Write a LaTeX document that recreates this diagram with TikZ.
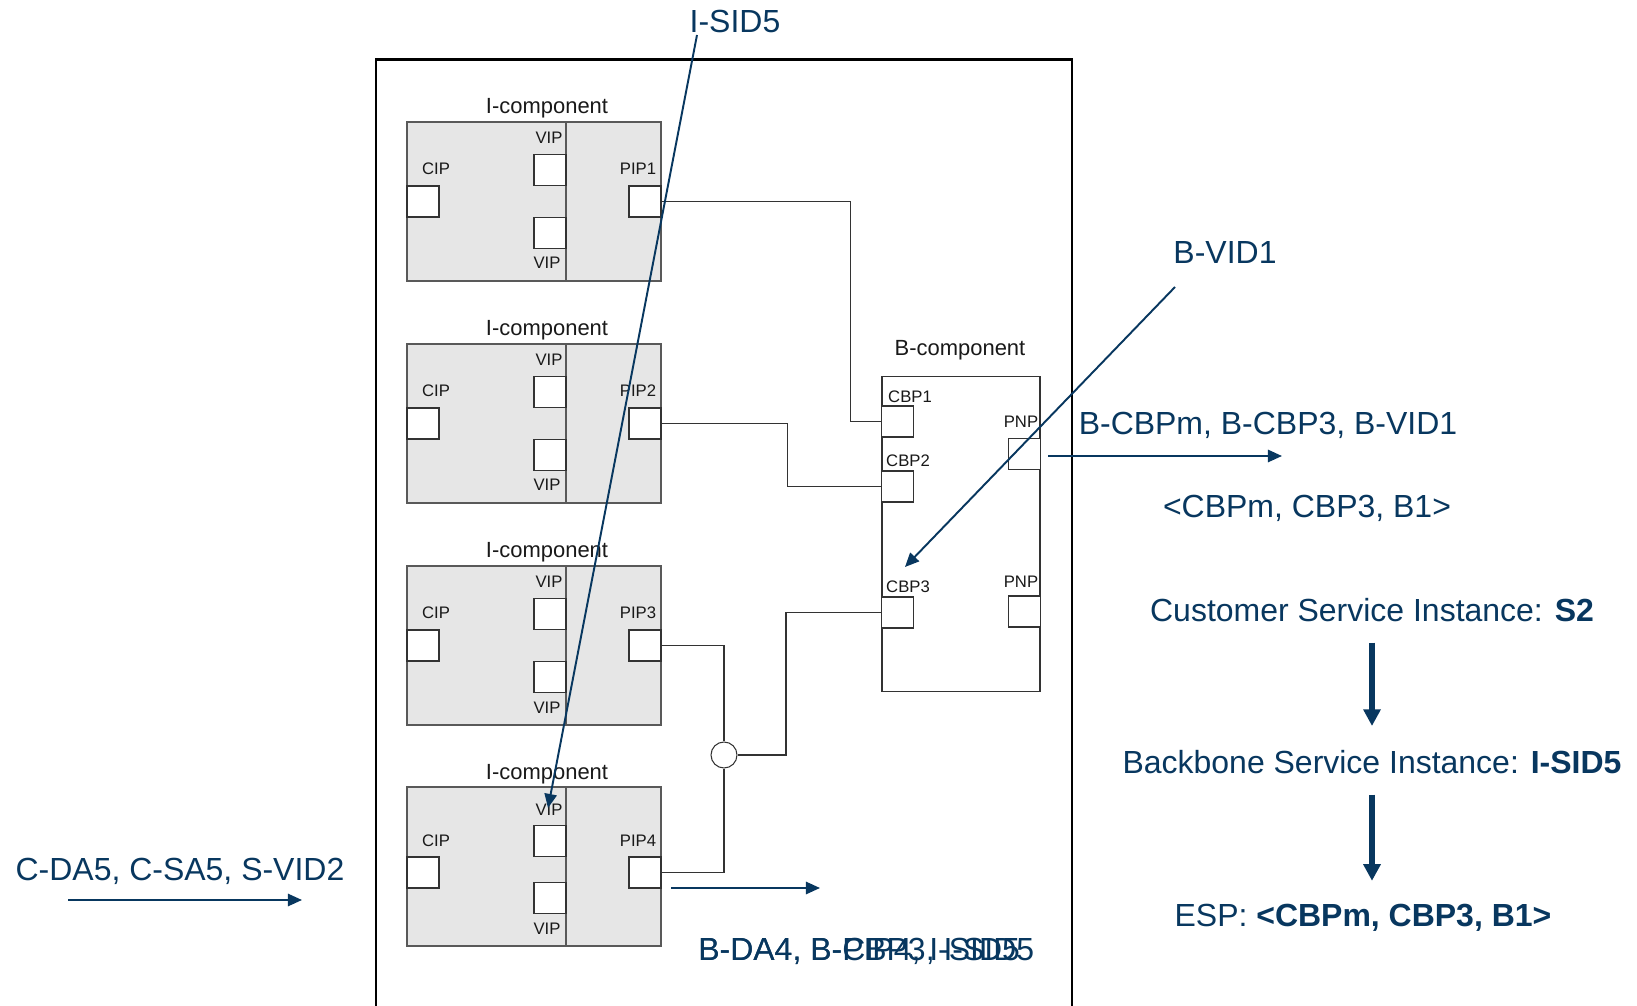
\documentclass[tikz,border=0pt]{standalone}
\usepackage{fontspec}
\setmainfont{Liberation Sans}
\usetikzlibrary{arrows.meta}
\definecolor{navy}{RGB}{8,55,95}
\definecolor{boxfill}{RGB}{230,230,230}
\begin{document}
\begin{tikzpicture}[x=0.02cm,y=-0.02cm,
 wire/.style={draw=black!80,line width=0.6pt},
 port/.style={draw=black!80,fill=white,line width=0.6pt,minimum width=0.64cm,minimum height=0.62cm,inner sep=0pt},
 comp/.style={draw=black!65,fill=boxfill,line width=0.8pt,minimum width=5.08cm,minimum height=3.18cm,inner sep=0pt},
 bcomp/.style={draw=black!80,fill=white,line width=0.6pt,minimum width=3.16cm,minimum height=6.32cm,inner sep=0pt},
 lbl/.style={font=\fontsize{9.5}{11}\selectfont,text=black!90,inner sep=0pt,anchor=base},
 clbl/.style={font=\fontsize{12.5}{14}\selectfont,text=black!90,inner sep=0pt,anchor=base},
 btxt/.style={font=\fontsize{18.2}{22}\selectfont,text=navy,inner sep=0pt,anchor=base},
 barrow/.style={draw=navy,line width=1.1pt,-{Triangle[length=8pt,width=7pt]}},
 bigarrow/.style={draw=navy,line width=3pt,-{Triangle[length=9.5pt,width=9.5pt]}}]
\useasboundingbox (0,0) rectangle (1637,1006);
% outer frame
\draw[line width=1.4pt] (376,1015) -- (376,59.5) -- (1072,59.5) -- (1072,1015);
% I-components
\foreach \i/\t/\d in {1/122/0,2/344/0,3/566/0,4/787/6}{
 \node[comp] (comp\i) at (534,\t+79.5) {};
 \draw[draw=black!65,line width=0.8pt] (566,\t) -- (566,\t+159);
 \node[clbl] (cl\i) at (547,\t-8) {I-component};
 \node[port] (cip\i) at (423,\t+\d+79.5) {};
 \node[port] (vipa\i) at (550,\t+\d+48) {};
 \node[port] (vipb\i) at (550,\t+111) {};
 \node[port] (pip\i) at (645,\t+\d+79.5) {};
 \node[lbl] (cipl\i) at (436,\t+\d+53) {CIP};
 \node[lbl] (vipal\i) at (549,\t+\d+22) {VIP};
 \node[lbl] (vipbl\i) at (547,\t+147) {VIP};
 \node[lbl] (pipl\i) at (638,\t+\d+53) {PIP\i};
}
% B-component
\node[bcomp] (bcomp) at (961,534) {};
\node[clbl] (bcl) at (960,356) {B-component};
\node[port] (cbp1) at (897.5,421.5) {};
\node[port] (cbp2) at (897.5,486.5) {};
\node[port] (cbp3) at (897.5,612.5) {};
\node[port] (pnp1) at (1024.5,454) {};
\node[port] (pnp2) at (1024.5,611.5) {};
\node[lbl] (cbp1l) at (910,403) {CBP1};
\node[lbl] (cbp2l) at (908,467) {CBP2};
\node[lbl] (cbp3l) at (908,593) {CBP3};
\node[lbl] (pnp1l) at (1021,428) {PNP};
\node[lbl] (pnp2l) at (1021,588) {PNP};
% junction
\node[circle,draw=black!80,fill=white,line width=0.6pt,minimum size=0.52cm,inner sep=0pt] (junc) at (724,755) {};
% wires
\draw[wire] (pip1.east) -- ++(189,0) |- (cbp1.west);
\draw[wire] (pip2.east) -- ++(126,0) |- (cbp2.west);
\draw[wire] (cbp3.west) -- ++(-95,0) |- (junc.east);
\draw[wire] (pip3.east) -| (junc.north);
\draw[wire] (junc.south) |- (pip4.east);
% blue labels
\node[btxt] (isid) at (735,33) {I-SID5};
\node[btxt] (bvid) at (1225,264) {B-VID1};
\node[btxt] (bcbp) at (1268,435) {B-CBPm, B-CBP3, B-VID1};
\node[btxt] (tuple) at (1307,518) {<CBPm, CBP3, B1>};
\node[btxt] (cda) at (180,880) {C-DA5, C-SA5, S-VID2};
\node[btxt,anchor=base west] (bda1) at (698,960) {B-DA4, B-CBP3, I-SID5};
\node[btxt,anchor=base west] (bda2) at (698,960) {B-DA4, B-PIP4, I-SID5};
\node[btxt] (cust) at (1372,622) {Customer Service Instance: \textbf{S2}};
\node[btxt] (bb) at (1372,773) {Backbone Service Instance: \textbf{I-SID5}};
\node[btxt] (esp) at (1363,926) {ESP: \textbf{<CBPm, CBP3, B1>}};
% blue arrows
\coordinate (isidS) at (697,35);
\coordinate (isidE) at (548,808);
\draw[barrow] (isidS) -- (isidE);
\coordinate (bvidS) at (1175,287);
\coordinate (bvidE) at (905,567);
\draw[barrow] (bvidS) -- (bvidE);
\coordinate (pnpS) at (1048,456);
\coordinate (pnpE) at (1282,456);
\draw[barrow] (pnpS) -- (pnpE);
\coordinate (cdaS) at (68,900);
\coordinate (cdaE) at (302,900);
\draw[barrow] (cdaS) -- (cdaE);
\coordinate (bdaS) at (671,888);
\coordinate (bdaE) at (820,888);
\draw[barrow] (bdaS) -- (bdaE);
\draw[bigarrow] ([yshift=-0.4cm]cust.south) -- ([yshift=0.47cm]cust.south |- bb.north);
\draw[bigarrow] ([yshift=-0.42cm]bb.south) -- ([yshift=0.45cm]bb.south |- esp.north);
\end{tikzpicture}
\end{document}
